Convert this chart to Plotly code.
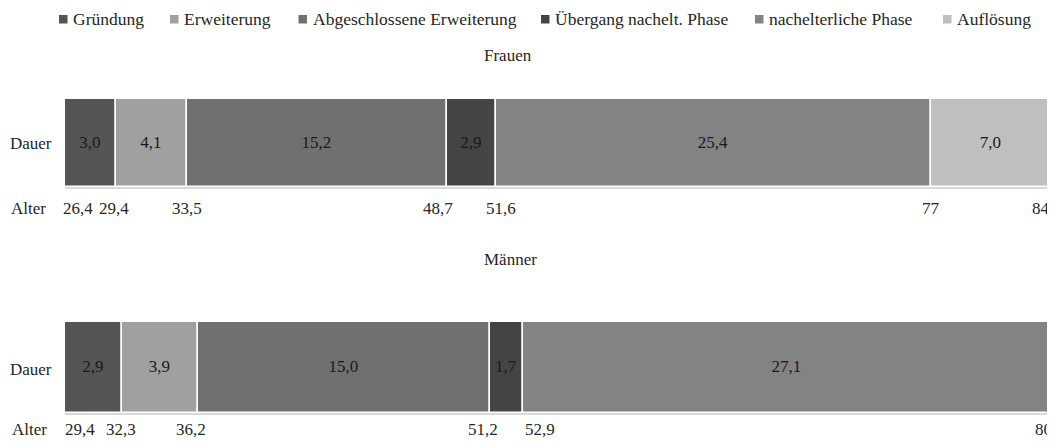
import plotly.graph_objects as go

phases = ["Gründung", "Erweiterung", "Abgeschlossene Erweiterung",
          "Übergang nachelt. Phase", "nachelterliche Phase", "Auflösung"]
colors = ["#555555", "#a0a0a0", "#707070", "#444444", "#838383", "#bfbfbf"]

frauen_dauer = [3.0, 4.1, 15.2, 2.9, 25.4, 7.0]
frauen_alter = [26.4, 29.4, 33.5, 48.7, 51.6, 77, 84]
frauen_alter_text = ["26,4", "29,4", "33,5", "48,7", "51,6", "77", "84"]

maenner_dauer = [2.9, 3.9, 15.0, 1.7, 27.1]
maenner_alter = [29.4, 32.3, 36.2, 51.2, 52.9, 80]
maenner_alter_text = ["29,4", "32,3", "36,2", "51,2", "52,9", "80"]

# ---- layout (pixel positions in the 1055x442 window; page body has 8px margin) ----
OFF = 8
W, H = 1055 - OFF, 442 - OFF
PL, PR = 65, 1051            # plot area left/right in window px
FONT = "Liberation Serif, Times New Roman, serif"
TXT = "#262626"

def px_x(X):
    return (X - PL) / (PR - PL)

def px_y(Y):
    return 1 - (Y - OFF) / H

def fmt(v):
    return f"{v:.1f}".replace(".", ",")

fig = go.Figure()

groups = [
    ("x", "y", frauen_dauer, frauen_alter),
    ("x2", "y2", maenner_dauer, maenner_alter),
]
for xa, ya, dauer, alter in groups:
    for i, d in enumerate(dauer):
        fig.add_trace(go.Bar(
            x=[d], y=["Dauer"], base=[alter[i]], orientation="h",
            name=phases[i], legendgroup=phases[i], showlegend=False,
            marker=dict(color=colors[i], line=dict(color="white", width=1.5)),
            text=[fmt(d)], textposition="inside", insidetextanchor="middle",
            textangle=0, constraintext="none",
            textfont=dict(family=FONT, size=17, color="#1a1a1a"),
            width=1, xaxis=xa, yaxis=ya, hoverinfo="skip",
        ))

axis_common = dict(showgrid=False, zeroline=False, showticklabels=False,
                   ticks="", showline=True, linecolor="#d9d9d9", linewidth=2)
fig.update_layout(
    width=W, height=H,
    margin=dict(l=PL - OFF, r=W - (PR - OFF), t=0, b=0, autoexpand=False),
    paper_bgcolor="white", plot_bgcolor="white",
    barmode="overlay", bargap=0,
    font=dict(family=FONT, size=17, color=TXT),
    xaxis=dict(domain=[0, 1], range=[frauen_alter[0], frauen_alter[-1]], anchor="y", **axis_common),
    yaxis=dict(domain=[px_y(187), px_y(99)], range=[-0.5, 0.5], showticklabels=False,
               showgrid=False, zeroline=False, anchor="x"),
    xaxis2=dict(domain=[0, 1], range=[maenner_alter[0], maenner_alter[-1]], anchor="y2", **axis_common),
    yaxis2=dict(domain=[px_y(413), px_y(322)], range=[-0.5, 0.5], showticklabels=False,
                showgrid=False, zeroline=False, anchor="x2"),
    showlegend=False,
)

ann = []
shapes = []

# manual legend: square + label
legend_text_x = [71, 182, 310.5, 553, 767, 955]
LEG_Y = 19
for name, col, tx in zip(phases, colors, legend_text_x):
    shapes.append(dict(type="rect", xref="paper", yref="paper",
                       x0=px_x(tx - 12), x1=px_x(tx - 3.5),
                       y0=px_y(LEG_Y + 4.5), y1=px_y(LEG_Y - 4),
                       fillcolor=col, line=dict(width=0)))
    ann.append(dict(text=name, xref="paper", yref="paper", x=px_x(tx), y=px_y(LEG_Y),
                    xanchor="left", yanchor="middle", showarrow=False,
                    font=dict(family=FONT, size=17.5, color=TXT)))

def title(text, xpx, ypx):
    ann.append(dict(text=text, xref="paper", yref="paper", x=px_x(xpx), y=px_y(ypx),
                    xanchor="center", yanchor="middle", showarrow=False,
                    font=dict(family=FONT, size=17, color=TXT)))

def side(text, ypx, rightpx):
    ann.append(dict(text=text, xref="paper", yref="paper", x=px_x(rightpx),
                    y=px_y(ypx), xanchor="right", yanchor="middle", showarrow=False,
                    font=dict(family=FONT, size=17, color=TXT)))

title("Frauen", 508, 56)
title("Männer", 510, 259)
side("Dauer", 143, 54)
side("Alter", 209, 48)
side("Dauer", 369, 54)
side("Alter", 429, 49)

# age label horizontal shifts (px) mimicking the original label placement
frauen_shift = [12.5, -2, 0, -9, 5, 0, -10]
maenner_shift = [15, -1, -7, -7, 17, -8]
for xref, vals, texts, shifts, ypx in [
    ("x", frauen_alter, frauen_alter_text, frauen_shift, 209),
    ("x2", maenner_alter, maenner_alter_text, maenner_shift, 429),
]:
    for v, t, s in zip(vals, texts, shifts):
        ann.append(dict(text=t, xref=xref, yref="paper", x=v, xshift=s, y=px_y(ypx),
                        xanchor="center", yanchor="middle", showarrow=False,
                        font=dict(family=FONT, size=17, color=TXT)))

fig.update_layout(annotations=ann, shapes=shapes)
fig.write_html("out.html")
